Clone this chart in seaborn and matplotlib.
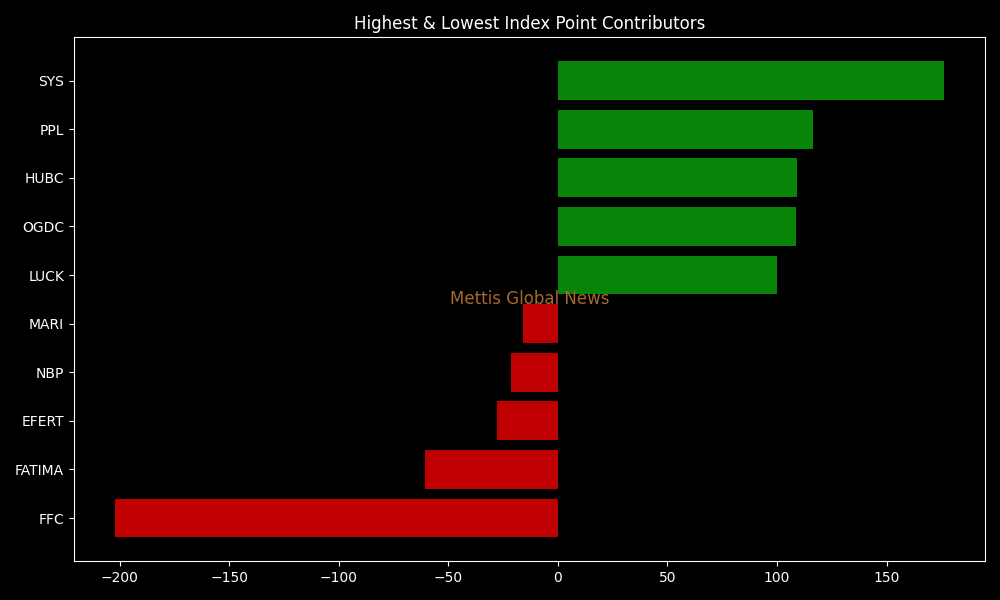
import matplotlib
matplotlib.use("Agg")
import matplotlib.pyplot as plt
import seaborn as sns
import pandas as pd

symbols = ["SYS", "PPL", "HUBC", "OGDC", "LUCK", "MARI", "NBP", "EFERT", "FATIMA", "FFC"]
points = [176.0, 116.3, 109.0, 108.5, 99.8, -16.0, -21.4, -27.8, -60.6, -202.0]

df = pd.DataFrame({"Symbol": symbols, "Points": points})
df["Sign"] = ["pos" if p >= 0 else "neg" for p in points]

plt.style.use("dark_background")
fig, ax = plt.subplots(figsize=(10, 6), dpi=100)
sns.barplot(data=df, y="Symbol", x="Points", hue="Sign",
            palette={"pos": "#088408", "neg": "#c00000"},
            orient="h", width=0.8, dodge=False, legend=False, ax=ax,
            saturation=1)
n = len(symbols)
pad = 0.4 + 0.05 * (n - 1 + 0.8)
ax.set_ylim(n - 1 + pad, -pad)
ax.set_title("Highest & Lowest Index Point Contributors", fontsize=12, color="white")
ax.set_xlabel("")
ax.set_ylabel("")
for s in ax.spines.values():
    s.set_color("white")
    s.set_visible(True)
ax.text(0.5, 0.5, "Mettis Global News", transform=ax.transAxes,
        ha="center", va="center", fontsize=12, color="#a8682c")
fig.tight_layout()
fig.savefig("out.png", dpi=100, facecolor="black")
